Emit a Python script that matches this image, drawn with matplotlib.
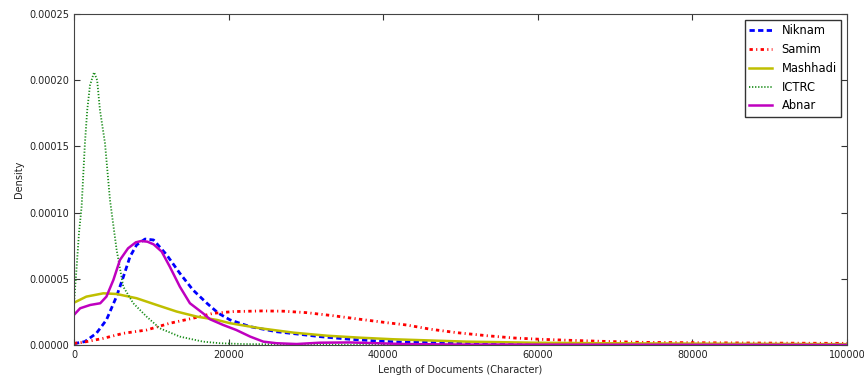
import matplotlib.pyplot as plt
from matplotlib.ticker import FormatStrFormatter

plt.rcParams['lines.scale_dashes'] = False

# curves (x = length in characters, y = density)
niknam_x = [0, 1400, 2900, 4200, 5500, 6400, 7250, 8100, 9200, 10300, 12000, 13700,
            15400, 17200, 18700, 20200, 22800, 26200, 28800, 31800, 35700, 39200,
            42200, 50800, 60000, 80000, 100000]
niknam_y = [1.0e-6, 2.5e-6, 8.8e-6, 1.89e-5, 3.65e-5, 5.16e-5, 6.67e-5, 7.55e-5, 8.0e-5,
            7.93e-5, 6.8e-5, 5.41e-5, 4.15e-5, 3.15e-5, 2.39e-5, 1.89e-5, 1.38e-5,
            1.0e-5, 8.3e-6, 6.3e-6, 4.3e-6, 3.0e-6, 2.3e-6, 1.2e-6, 6e-7, 2e-7, 0.0]

samim_x = [0, 1200, 3800, 6400, 9400, 12400, 15400, 18000, 20600, 24300, 27100, 30100,
           33500, 37000, 40500, 43000, 46100, 49500, 53400, 56800, 60300, 64200, 68000,
           73200, 80000, 90000, 100000]
samim_y = [1.2e-6, 2.0e-6, 5.0e-6, 8.8e-6, 1.13e-5, 1.64e-5, 2.02e-5, 2.39e-5, 2.52e-5,
           2.57e-5, 2.55e-5, 2.44e-5, 2.21e-5, 1.94e-5, 1.68e-5, 1.51e-5, 1.19e-5,
           9.3e-6, 7.0e-6, 5.3e-6, 4.3e-6, 3.5e-6, 2.8e-6, 2.0e-6, 1.7e-6, 1.4e-6, 1.2e-6]

mashhadi_x = [0, 1600, 3800, 5500, 8100, 10700, 13300, 15900, 18500, 20200, 24100,
              28400, 32700, 37000, 41300, 50800, 59400, 68000, 81000, 100000]
mashhadi_y = [3.19e-5, 3.65e-5, 3.9e-5, 3.85e-5, 3.53e-5, 3.02e-5, 2.52e-5, 2.14e-5,
              1.89e-5, 1.64e-5, 1.26e-5, 9.3e-6, 7.0e-6, 5.5e-6, 4.3e-6, 2.5e-6,
              1.7e-6, 1.3e-6, 1.0e-6, 6e-7]

ictrc_x = [0, 130, 350, 650, 990, 1420, 1720, 2070, 2600, 3000, 3360, 4010, 4660,
           5520, 6380, 7670, 9400, 11100, 13700, 16700, 18900, 21900, 30000, 50000, 100000]
ictrc_y = [3.0e-5, 4.15e-5, 5.9e-5, 8.46e-5, 1.045e-4, 1.526e-4, 1.775e-4, 1.96e-4,
           2.06e-4, 2.0e-4, 1.775e-4, 1.526e-4, 1.095e-4, 7.18e-5, 4.4e-5, 3.15e-5,
           2.14e-5, 1.26e-5, 6.3e-6, 2.5e-6, 1.3e-6, 7e-7, 2e-7, 0.0, 0.0]

abnar_x = [0, 800, 2100, 3400, 4200, 5100, 5950, 7000, 8000, 8700, 9500, 10300, 11350,
           12400, 13700, 15000, 16700, 17600, 19300, 21000, 22800, 24500, 26200, 28800,
           31800, 35700, 39200, 42600, 50000, 100000]
abnar_y = [2.27e-5, 2.77e-5, 3.02e-5, 3.15e-5, 3.65e-5, 4.91e-5, 6.42e-5, 7.3e-5, 7.75e-5,
           7.85e-5, 7.8e-5, 7.6e-5, 7.05e-5, 5.91e-5, 4.4e-5, 3.15e-5, 2.39e-5, 1.94e-5,
           1.51e-5, 1.13e-5, 6.3e-6, 2.5e-6, 1.3e-6, 7e-7, 1.7e-6, 1.9e-6, 1.3e-6, 7e-7,
           3e-7, 0.0]

fig = plt.figure(figsize=(8.64, 3.77), dpi=100)
ax = fig.add_axes([0.0856, 0.085, 0.8947, 0.878])

ax.plot(niknam_x, niknam_y, color='b', lw=2, dashes=(3.8, 2.4), label='Niknam')
ax.plot(samim_x, samim_y, color='r', lw=2, dashes=(2.4, 2.4, 0.8, 2.4), label='Samim')
ax.plot(mashhadi_x, mashhadi_y, '-', color=(0.75, 0.75, 0), lw=1.8, label='Mashhadi')
ax.plot(ictrc_x, ictrc_y, color=(0.1, 0.55, 0.1), lw=1.3, dashes=(0.9, 1.3), label='ICTRC')
ax.plot(abnar_x, abnar_y, '-', color=(0.75, 0, 0.75), lw=1.8, label='Abnar')

ax.set_xlim(0, 100000)
ax.set_ylim(0, 0.00025)
ax.set_xticks([0, 20000, 40000, 60000, 80000, 100000])
ax.set_yticks([0, 0.00005, 0.0001, 0.00015, 0.0002, 0.00025])
ax.yaxis.set_major_formatter(FormatStrFormatter('%.5f'))
ax.tick_params(direction='in', top=True, right=True, labelsize=7, length=4,
               colors='#333333', labelcolor='#222222')
for s in ax.spines.values():
    s.set_color('#444444')

ax.set_xlabel('Length of Documents (Character)', fontsize=7, color='#222222')
ax.set_ylabel('Density', fontsize=7, color='#222222')

leg = ax.legend(loc='upper right', fontsize=8.3, fancybox=False, framealpha=1,
                borderaxespad=0.5, handlelength=2)
leg.get_frame().set_edgecolor('#333333')

fig.savefig('out.png', dpi=100)
